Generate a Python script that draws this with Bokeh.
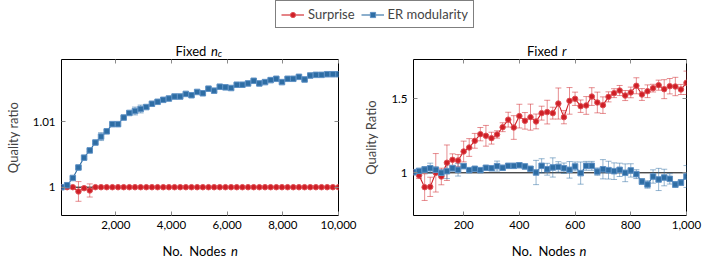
from bokeh.plotting import figure
from bokeh.models import (Range1d, FixedTicker, NumeralTickFormatter, CustomJSTickFormatter,
                          LinearAxis, Whisker, TeeHead, ColumnDataSource, Span,
                          Legend, LegendItem)
from bokeh.layouts import column, row
from bokeh.core.properties import value
from bokeh.embed import file_html
from bokeh.resources import INLINE

# ---------------- data ----------------
# Left panel: fixed n_c, x = number of nodes
n_left = [50, 253, 456, 659, 862, 1065, 1268, 1471, 1674, 1878, 2081, 2284, 2487, 2690,
          2893, 3096, 3299, 3502, 3705, 3908, 4111, 4314, 4517, 4720, 4923, 5127, 5330,
          5533, 5736, 5939, 6142, 6345, 6548, 6751, 6954, 7157, 7360, 7563, 7766, 7969,
          8172, 8376, 8579, 8782, 8985, 9188, 9391, 9594, 9797, 10000]
surprise_left = [1.0, 1.0, 1.0, 0.99935, 0.99985, 0.9995] + [1.0] * 44
surprise_left_err = [0.00005, 0.00005, 0.00005, 0.0015, 0.0002, 0.001] + [0.00005] * 44
er_left = [1.0000, 1.0003, 1.0014, 1.0030, 1.0045, 1.0056, 1.0068, 1.0077, 1.0085, 1.0096,
           1.0096, 1.0106, 1.0113, 1.0116, 1.0119, 1.0122, 1.0127, 1.0130, 1.0133, 1.0135,
           1.0138, 1.0138, 1.0142, 1.0140, 1.0145, 1.0143, 1.0150, 1.0147, 1.0153, 1.0152,
           1.0151, 1.0156, 1.0156, 1.0158, 1.0162, 1.0158, 1.0160, 1.0163, 1.0165, 1.0160,
           1.0165, 1.0165, 1.0168, 1.0164, 1.0170, 1.0171, 1.0171, 1.0172, 1.0172, 1.0172]
er_left_err = [0.0001, 0.0001, 0.0002, 0.0002, 0.0002, 0.0002, 0.0002, 0.0006, 0.0002, 0.0002,
               0.0002, 0.0002, 0.0002, 0.0006, 0.0006, 0.0002, 0.0002, 0.0002, 0.0002, 0.0002,
               0.0002, 0.0002, 0.0002, 0.0002, 0.0002, 0.0002, 0.0002, 0.0002, 0.0002, 0.0002,
               0.0002, 0.0002, 0.0002, 0.0002, 0.0002, 0.0002, 0.0002, 0.0002, 0.0002, 0.0002,
               0.0002, 0.0002, 0.0002, 0.0002, 0.0002, 0.0002, 0.0002, 0.0002, 0.0002, 0.0002]

# Right panel: fixed r
n_right = [20, 40, 60, 80, 100, 120, 140, 160, 180, 200, 220, 240, 260, 280, 300, 320, 340,
           360, 380, 400, 420, 440, 460, 480, 500, 520, 540, 560, 580, 600, 620, 640, 660,
           680, 700, 720, 740, 760, 780, 800, 820, 840, 860, 880, 900, 920, 940, 960, 980, 1000]
surprise_right = [1.004, 0.982, 0.903, 0.905, 1.0, 0.975, 1.068, 1.088, 1.083, 1.144,
                  1.171, 1.216, 1.261, 1.25, 1.234, 1.259, 1.308, 1.359, 1.306, 1.383,
                  1.351, 1.376, 1.347, 1.403, 1.41, 1.403, 1.468, 1.376, 1.486, 1.5,
                  1.45, 1.455, 1.515, 1.475, 1.457, 1.513, 1.538, 1.556, 1.522, 1.543,
                  1.588, 1.529, 1.551, 1.572, 1.592, 1.565, 1.585, 1.583, 1.563, 1.608]
surprise_right_err = [0.01, 0.02, 0.09, 0.065, 0.13, 0.056, 0.12, 0.04, 0.04, 0.07,
                      0.06, 0.05, 0.045, 0.07, 0.04, 0.025, 0.03, 0.05, 0.08, 0.08,
                      0.056, 0.088, 0.05, 0.047, 0.08, 0.04, 0.105, 0.045, 0.09, 0.045,
                      0.042, 0.06, 0.06, 0.07, 0.056, 0.034, 0.03, 0.034, 0.034, 0.036,
                      0.054, 0.04, 0.043, 0.026, 0.034, 0.064, 0.052, 0.062, 0.034, 0.079]
er_right = [1.004, 1.013, 1.022, 1.031, 1.02, 1.0, 1.011, 1.031, 1.02, 1.045,
            1.018, 1.027, 1.018, 1.034, 1.031, 1.045, 1.034, 1.047, 1.047, 1.051,
            1.043, 1.027, 1.002, 1.047, 1.024, 1.036, 1.04, 1.031, 1.02, 1.043,
            0.998, 1.047, 1.047, 1.008, 1.024, 1.018, 1.011, 1.02, 1.0, 1.016,
            0.991, 0.941, 0.921, 0.975, 0.955, 0.968, 0.959, 0.921, 0.934, 0.975]
er_right_err = [0.01, 0.01, 0.02, 0.034, 0.02, 0.02, 0.05, 0.02, 0.042, 0.015,
                0.015, 0.015, 0.015, 0.015, 0.015, 0.034, 0.015, 0.015, 0.015, 0.015,
                0.015, 0.015, 0.082, 0.048, 0.04, 0.065, 0.035, 0.035, 0.056, 0.03,
                0.075, 0.03, 0.03, 0.025, 0.065, 0.06, 0.056, 0.045, 0.06, 0.045,
                0.03, 0.02, 0.025, 0.045, 0.075, 0.056, 0.035, 0.02, 0.02, 0.074]

left_xticks = [2000, 4000, 6000, 8000, 10000]
left_yticks = [1.0, 1.01]
right_xticks = [200, 400, 600, 800, 1000]
right_yticks = [1.0, 1.5]

series_names = ["Surprise", "ER modularity"]
ylabels = ["Quality ratio", "Quality Ratio"]
title_plain = ["Fixed", "Fixed"]
title_math = ["n", "r"]
title_sub = ["c"]
xlabel_plain = ["No.\u2002Nodes", "No.\u2002Nodes"]
xlabel_math = ["n", "n"]

# ---------------- style ----------------
FONT = "Lato"
LABEL_SIZE = "13px"
TICK_SIZE = "11.5px"
RED = "#cf1f26"
RED_EDGE = "#df5258"
BLUE = "#2e6da4"
BLUE_EDGE = "#5d90c4"
TICK = "#8a8a8a"
MSIZE = 5.5

TOP_H = 58
BOT_H = 24
PLOT_H = 261 - TOP_H - BOT_H

yfmt_code = "return (Math.round(tick*1000)/1000).toString();"
blank_code = "return '';"


def style_axis(ax, ticks, fmt, label_size=TICK_SIZE, standoff=6):
    ax.ticker = FixedTicker(ticks=ticks)
    ax.formatter = fmt
    ax.major_tick_in = 4
    ax.major_tick_out = 0
    ax.major_tick_line_color = TICK
    ax.major_tick_line_width = 1
    ax.minor_tick_line_color = None
    ax.axis_line_color = None
    ax.major_label_text_font = FONT
    ax.major_label_text_color = "black"
    ax.major_label_text_font_size = label_size
    ax.major_label_standoff = standoff


def panel(width, xs, s_y, s_err, e_y, e_err, xr, yr, xticks, yticks, ylabel,
          border_left, border_right):
    p = figure(width=width, height=PLOT_H, x_range=Range1d(*xr), y_range=Range1d(*yr),
               output_backend="svg", toolbar_location=None,
               min_border_left=border_left, min_border_right=border_right,
               min_border_top=1, min_border_bottom=22)
    p.xgrid.visible = False
    p.ygrid.visible = False
    p.outline_line_color = "black"
    p.outline_line_width = 1
    p.background_fill_color = "white"
    p.border_fill_color = "white"

    xfmt = NumeralTickFormatter(format="0,0")
    style_axis(p.xaxis[0], xticks, xfmt, standoff=5)
    style_axis(p.yaxis[0], yticks, CustomJSTickFormatter(code=yfmt_code))
    p.yaxis[0].axis_label = ylabel
    p.yaxis[0].axis_label_text_font = FONT
    p.yaxis[0].axis_label_text_font_size = LABEL_SIZE
    p.yaxis[0].axis_label_text_font_style = "normal"
    p.yaxis[0].axis_label_standoff = 9

    top = LinearAxis()
    style_axis(top, xticks, CustomJSTickFormatter(code=blank_code), label_size="0px",
               standoff=0)
    p.add_layout(top, "above")
    right = LinearAxis()
    style_axis(right, yticks, CustomJSTickFormatter(code=blank_code), standoff=0)
    p.add_layout(right, "right")

    p.add_layout(Span(location=1.0, dimension="width", line_color="black",
                      line_width=1, level="underlay"))

    for ys, errs, color, edge, marker in ((s_y, s_err, RED, RED_EDGE, "circle"),
                                          (e_y, e_err, BLUE, BLUE_EDGE, "square")):
        src = ColumnDataSource(dict(
            x=xs, y=ys,
            upper=[v + e for v, e in zip(ys, errs)],
            lower=[v - e for v, e in zip(ys, errs)]))
        p.add_layout(Whisker(source=src, base="x", upper="upper", lower="lower",
                             dimension="height", line_color=color, line_alpha=0.5,
                             line_width=1, level="underlay",
                             upper_head=TeeHead(size=6, line_color=color, line_alpha=0.5,
                                                line_width=1),
                             lower_head=TeeHead(size=6, line_color=color, line_alpha=0.5,
                                                line_width=1)))
        p.line("x", "y", source=src, line_color=color, line_width=1.1)
        p.scatter("x", "y", source=src, marker=marker, size=MSIZE, fill_color=color,
                  line_color=edge, line_width=1)
    return p


def strip(height):
    s = figure(width=712, height=height, x_range=Range1d(0, 712),
               y_range=Range1d(height, 0), output_backend="svg", toolbar_location=None,
               x_axis_type=None, y_axis_type=None, min_border=0, outline_line_color=None)
    s.xgrid.visible = False
    s.ygrid.visible = False
    return s


def put_text(s, xs, ys, texts, size=LABEL_SIZE, style="normal"):
    s.text(x=xs, y=ys, text=texts, text_font=value(FONT), text_font_size=value(size),
           text_font_style=value(style), text_align=value("left"),
           text_baseline=value("alphabetic"), text_color="black")


p1 = panel(360, n_left, surprise_left, surprise_left_err, er_left, er_left_err,
           (50, 10000), (0.99569, 1.01944), left_xticks, left_yticks, ylabels[0], 61, 22)
p2 = panel(352, n_right, surprise_right, surprise_right_err, er_right, er_right_err,
           (20, 1000), (0.7115, 1.7655), right_xticks, right_yticks, ylabels[1], 50, 26)

# ---------------- top strip: legend + panel titles ----------------
top = strip(TOP_H)
items = []
for name, color, edge, marker in ((series_names[0], RED, RED_EDGE, "circle"),
                                  (series_names[1], BLUE, BLUE_EDGE, "square")):
    rl = top.line([-5, -4], [-5, -4], line_color=color, line_width=1.1)
    rs = top.scatter([-5], [-5], marker=marker, size=MSIZE, fill_color=color,
                     line_color=edge, line_width=1)
    items.append(LegendItem(label=name, renderers=[rl, rs]))
legend = Legend(items=items, orientation="horizontal", location=(275, TOP_H - 28),
                glyph_width=23, glyph_height=13, label_height=13, label_standoff=4,
                spacing=6, padding=5, margin=0, border_line_color="black",
                border_line_width=1, label_text_font=FONT, label_text_font_size=LABEL_SIZE,
                background_fill_alpha=1.0)
top.add_layout(legend, "center")
put_text(top, [175.0, 526.5], [50, 50], title_plain)
put_text(top, [210.5, 561.5], [50, 50], title_math, style="italic")
put_text(top, [217.3], [52.5], title_sub, size="9.5px", style="italic")

# ---------------- bottom strip: x axis labels ----------------
bot = strip(BOT_H)
put_text(bot, [162.0, 511.3], [13.7, 13.7], xlabel_plain)
put_text(bot, [230.5, 579.0], [13.7, 13.7], xlabel_math, style="italic")

layout = column(top, row(p1, p2), bot)
open("out.html", "w").write(file_html(layout, INLINE))
